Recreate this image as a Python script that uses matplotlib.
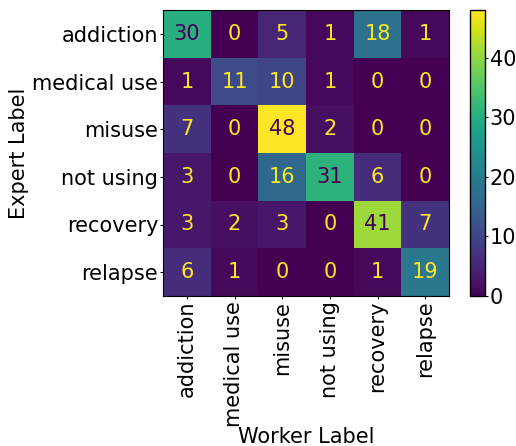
import numpy as np
import matplotlib
matplotlib.use("Agg")
import matplotlib.pyplot as plt

labels = ["addiction", "medical use", "misuse", "not using", "recovery", "relapse"]
cm = np.array([
    [30, 0, 5, 1, 18, 1],
    [1, 11, 10, 1, 0, 0],
    [7, 0, 48, 2, 0, 0],
    [3, 0, 16, 31, 6, 0],
    [3, 2, 3, 0, 41, 7],
    [6, 1, 0, 0, 1, 19],
])

plt.rcParams['font.size'] = 15
fig = plt.figure(figsize=(5.16, 4.46), dpi=100)
ax = fig.add_axes([163/516, 150/446, 286/516, 286/446])
cax = fig.add_axes([470/516, 150/446, 15/516, 286/446])

cmap = plt.get_cmap("viridis")
im = ax.imshow(cm, cmap=cmap, interpolation="nearest", aspect="auto")
thresh = (cm.max() + cm.min()) / 2.0
for i in range(cm.shape[0]):
    for j in range(cm.shape[1]):
        color = cmap(0) if cm[i, j] >= thresh else cmap(1.0)
        ax.text(j, i, str(cm[i, j]), ha="center", va="center", color=color, fontsize=15)

ax.set_xticks(range(len(labels)))
ax.set_xticklabels(labels, rotation=90)
ax.set_yticks(range(len(labels)))
ax.set_yticklabels(labels)
ax.tick_params(length=2.5, pad=1)
ax.set_xlabel("Worker Label", labelpad=0)
ax.set_ylabel("Expert Label", labelpad=2)

cb = fig.colorbar(im, cax=cax)
cb.set_ticks([0, 10, 20, 30, 40])
cax.tick_params(length=2.5, pad=1)
cb.outline.set_linewidth(1)

fig.savefig("out.png", dpi=100)
